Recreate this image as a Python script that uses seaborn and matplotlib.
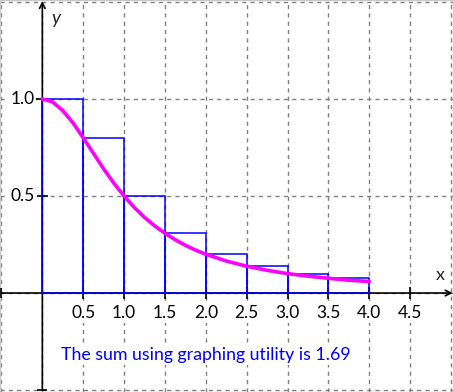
import numpy as np
import pandas as pd
import matplotlib
matplotlib.use("Agg")
import matplotlib.pyplot as plt
import seaborn as sns

# left endpoints and heights of the rectangles
rect_left = [0.0, 0.5, 1.0, 1.5, 2.0, 2.5, 3.0, 3.5]
rect_height = [1.0, 0.8, 0.5, 0.31, 0.2, 0.14, 0.1, 0.075]
rect_width = 0.5

# the magenta curve
curve_x = [0.0, 0.125, 0.25, 0.375, 0.5, 0.625, 0.75, 0.875, 1.0, 1.125, 1.25,
           1.375, 1.5, 1.625, 1.75, 1.875, 2.0, 2.25, 2.5, 2.75, 3.0, 3.25,
           3.5, 3.75, 4.0]
curve_y = [1.0, 0.985, 0.94, 0.877, 0.8, 0.72, 0.64, 0.566, 0.5, 0.441, 0.39,
           0.346, 0.308, 0.275, 0.246, 0.221, 0.2, 0.165, 0.138, 0.117, 0.1,
           0.087, 0.076, 0.066, 0.059]

x_ticks = [0.5, 1.0, 1.5, 2.0, 2.5, 3.0, 3.5, 4.0, 4.5]
x_tick_labels = ["0.5", "1.0", "1.5", "2.0", "2.5", "3.0", "3.5", "4.0", "4.5"]
y_ticks = [0.5, 1.0]
y_tick_labels = ["0.5", "1.0"]
grid_x = [-0.5, 0.0, 0.5, 1.0, 1.5, 2.0, 2.5, 3.0, 3.5, 4.0, 4.5, 5.0]
grid_y = [-0.5, 0.0, 0.5, 1.0, 1.5]
sum_text = "The sum using graphing utility is 1.69"

sns.set_style("white")
plt.rcParams['font.family'] = ['Lato', 'DejaVu Sans']

fig = plt.figure(figsize=(4.53, 3.92), dpi=100)
ax = fig.add_axes([0, 0, 1, 1])
ax.set_xlim(-0.518, 5.024)
ax.set_ylim(-0.51, 1.51)
ax.set_xticks([])
ax.set_yticks([])
for s in ax.spines.values():
    s.set_color("#c8c8c8")
    s.set_linewidth(1)

# dashed grid
for gx in grid_x:
    ax.axvline(gx, color="#808080", lw=1, ls=(0, (3, 3)), zorder=0)
for gy in grid_y:
    ax.axhline(gy, color="#808080", lw=1, ls=(0, (3, 3)), zorder=0)

# axes with arrows
arrow = dict(arrowstyle="->,head_width=0.2,head_length=0.4",
             color="black", lw=1.2, shrinkA=0, shrinkB=0)
ax.annotate("", xy=(5.02, 0), xytext=(-0.5, 0), arrowprops=arrow, zorder=3)
ax.annotate("", xy=(0, 1.505), xytext=(0, -0.5), arrowprops=arrow, zorder=3)
ax.plot([-0.5], [0], marker="|", ms=7, mew=1.2, color="black", zorder=3)
ax.plot([0], [-0.5], marker="_", ms=7, mew=1.2, color="black", zorder=3)
ax.plot(x_ticks, [0] * len(x_ticks), ls="none", marker="|", ms=9, mew=1.2,
        color="black", zorder=3)
ax.plot([0] * len(y_ticks), y_ticks, ls="none", marker="_", ms=9, mew=1.2,
        color="black", zorder=3)

# rectangles
ax.bar(rect_left, rect_height, width=rect_width, align="edge", fill=False,
       edgecolor="#0000ff", lw=1.1, zorder=4)

# curve
df = pd.DataFrame({"x": curve_x, "y": curve_y})
sns.lineplot(data=df, x="x", y="y", ax=ax, color="#ff00ff", lw=2.6, zorder=5)
ax.set_xlabel("")
ax.set_ylabel("")

# labels (white box hides the grid behind them)
box = dict(facecolor="white", edgecolor="none", pad=1.5)
for v, t in zip(x_ticks, x_tick_labels):
    ax.text(v, -0.103, t, ha="center", va="center", fontsize=12.5,
            color="black", bbox=box, zorder=6)
for v, t in zip(y_ticks, y_tick_labels):
    ax.text(-0.245, v, t, ha="center", va="center", fontsize=12.5,
            color="black", bbox=box, zorder=6)
ax.text(0.17, 1.415, "y", ha="center", va="center", fontsize=13.5, style="italic")
ax.text(4.87, 0.095, "x", ha="center", va="center", fontsize=13)
ax.text(2.0, -0.32, sum_text, ha="center", va="center", fontsize=12.8,
        color="#0000ff", bbox=box, zorder=6)

fig.savefig("out.png", dpi=100)
